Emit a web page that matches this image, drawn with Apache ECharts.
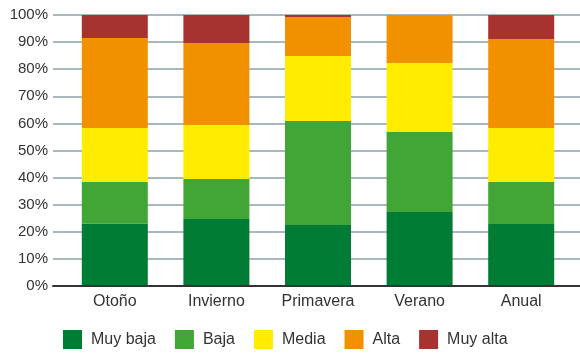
<!DOCTYPE html>
<html><head><meta charset="utf-8">
<script src="https://cdn.jsdelivr.net/npm/echarts@6/dist/echarts.min.js"></script>
<style>html,body{margin:0;padding:0;background:#fff}#c{width:580px;height:353px}</style>
</head><body><div id="c"></div>
<script>
const categories = ['Otoño', 'Invierno', 'Primavera', 'Verano', 'Anual'];
const seriesNames = ['Muy baja', 'Baja', 'Media', 'Alta', 'Muy alta'];
const muyBaja = [23.0, 24.7, 22.5, 27.3, 22.9];
const baja = [15.4, 14.8, 38.4, 29.5, 15.5];
const media = [19.9, 19.9, 24.0, 25.5, 19.9];
const alta = [33.2, 30.3, 14.4, 17.7, 32.8];
const muyAlta = [8.5, 10.3, 0.7, 0, 8.9];
const yTicks = [0, 10, 20, 30, 40, 50, 60, 70, 80, 90, 100];
const colors = ['#007c34', '#41a635', '#ffec00', '#f29100', '#a63330'];
const values = [muyBaja, baja, media, alta, muyAlta];
const font = 'Liberation Sans, Arial, Helvetica, sans-serif';

const chart = echarts.init(document.getElementById('c'));
chart.setOption({
  animation: false,
  textStyle: { fontFamily: font },
  grid: [
    { left: 53, right: 0, top: 15, bottom: 67 },
    { left: 64, right: 8, top: 15, bottom: 67 }
  ],
  xAxis: [
    { gridIndex: 0, type: 'value', min: 0, max: 1, z: 5,
      axisLine: { show: true, lineStyle: { color: '#333', width: 2 } },
      axisTick: { show: false }, axisLabel: { show: false }, splitLine: { show: false } },
    { gridIndex: 1, type: 'category', data: categories,
      axisLine: { show: false }, axisTick: { show: false },
      axisLabel: { fontSize: 16, color: '#333', margin: 8, fontFamily: font } }
  ],
  yAxis: [
    { gridIndex: 0, type: 'value', min: yTicks[0], max: yTicks[yTicks.length - 1], interval: 10,
      axisLine: { show: false }, axisTick: { show: false },
      axisLabel: { formatter: '{value}%', fontSize: 15, color: '#333', margin: 5, fontFamily: font },
      splitLine: { show: true, lineStyle: { color: '#a9b8bf', width: 2 } } },
    { gridIndex: 1, type: 'value', min: 0, max: 100, show: false, splitLine: { show: false } }
  ],
  legend: {
    left: 63, top: 330, padding: 0, itemWidth: 19, itemHeight: 19, itemGap: 19,
    icon: 'rect',
    textStyle: { fontSize: 16, color: '#333', padding: [0, 0, 0, 4], fontFamily: font },
    data: seriesNames
  },
  series: seriesNames.map((n, i) => ({
    name: n, type: 'bar', stack: 'total', xAxisIndex: 1, yAxisIndex: 1,
    barWidth: 66, data: values[i], itemStyle: { color: colors[i] }
  }))
});
</script></body></html>
